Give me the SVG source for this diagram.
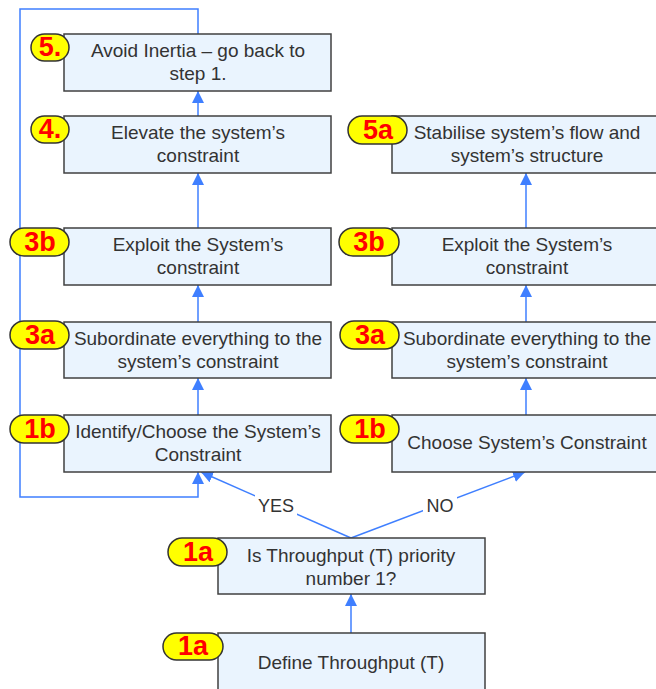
<svg xmlns="http://www.w3.org/2000/svg" width="656" height="689" viewBox="0 0 656 689">
<style>
.box{fill:#EAF4FE;stroke:#404040;stroke-width:1.5}
.badge{fill:#FFFF00;stroke:#333333;stroke-width:1.5}
.bt{font-family:"Liberation Sans",Arial,sans-serif;font-weight:bold;font-size:27px;fill:#FF0000;text-anchor:middle}
.t{font-family:"Liberation Sans",Arial,sans-serif;font-size:19px;fill:#333333;text-anchor:middle}
.lbl{font-family:"Liberation Sans",Arial,sans-serif;font-size:18px;fill:#333333;text-anchor:middle}
.c{fill:none;stroke:#3F7FFF;stroke-width:1.5;marker-end:url(#ah)}
</style>
<defs>
<marker id="ah" markerUnits="userSpaceOnUse" markerWidth="12" markerHeight="12" refX="12" refY="6" orient="auto">
<path d="M0,0 L12,6 L0,12 z" fill="#3F7FFF"/>
</marker>
</defs>
<rect width="656" height="689" fill="#FFFFFF"/>
<g id="connectors">
<path class="c" d="M198,116 V91"/>
<path class="c" d="M198,228 V173"/>
<path class="c" d="M198,322 V285"/>
<path class="c" d="M198,415 V378"/>
<path class="c" d="M526,228 V173"/>
<path class="c" d="M526,322 V285"/>
<path class="c" d="M526,415 V378"/>
<path class="c" d="M198,34 V9 H20 V497 H198 V472"/>
<path class="c" d="M351,538 L201,472"/>
<path class="c" d="M351,538 L525,472"/>
<path class="c" d="M351,633 V594"/>
<rect x="255" y="493" width="42" height="22" fill="#FFFFFF"/>
<text class="lbl" x="276" y="512">YES</text>
<rect x="423" y="493" width="34" height="22" fill="#FFFFFF"/>
<text class="lbl" x="440" y="512">NO</text>
</g>
<g id="n5">
<rect class="box" x="64" y="34" width="267" height="57"/>
<text class="t" x="198" y="57">Avoid Inertia – go back to</text>
<text class="t" x="198" y="80">step 1.</text>
<rect class="badge" x="31" y="34" width="38" height="27" rx="13.5"/>
<text class="bt" x="50" y="56">5.</text>
</g>
<g id="n4">
<rect class="box" x="64" y="116" width="267" height="57"/>
<text class="t" x="198" y="139">Elevate the system’s</text>
<text class="t" x="198" y="162">constraint</text>
<rect class="badge" x="31" y="116" width="38" height="27" rx="13.5"/>
<text class="bt" x="50" y="138">4.</text>
</g>
<g id="n3b-left">
<rect class="box" x="64" y="228" width="267" height="57"/>
<text class="t" x="198" y="251">Exploit the System’s</text>
<text class="t" x="198" y="274">constraint</text>
<rect class="badge" x="10" y="228" width="59" height="28" rx="14"/>
<text class="bt" x="40" y="251">3b</text>
</g>
<g id="n3a-left">
<rect class="box" x="64" y="322" width="267" height="56"/>
<text class="t" x="198" y="345">Subordinate everything to the</text>
<text class="t" x="198" y="368">system’s constraint</text>
<rect class="badge" x="10" y="321" width="59" height="28" rx="14"/>
<text class="bt" x="40" y="344">3a</text>
</g>
<g id="n1b-left">
<rect class="box" x="64" y="415" width="267" height="57"/>
<text class="t" x="198" y="438">Identify/Choose the System’s</text>
<text class="t" x="198" y="461">Constraint</text>
<rect class="badge" x="10" y="415" width="59" height="28" rx="14"/>
<text class="bt" x="40" y="438">1b</text>
</g>
<g id="n5a">
<rect class="box" x="392" y="116" width="267" height="57"/>
<text class="t" x="527" y="139">Stabilise system’s flow and</text>
<text class="t" x="527" y="162">system’s structure</text>
<rect class="badge" x="348" y="116" width="59" height="28" rx="14"/>
<text class="bt" x="378" y="139">5a</text>
</g>
<g id="n3b-right">
<rect class="box" x="392" y="228" width="267" height="57"/>
<text class="t" x="527" y="251">Exploit the System’s</text>
<text class="t" x="527" y="274">constraint</text>
<rect class="badge" x="339" y="228" width="60" height="28" rx="14"/>
<text class="bt" x="369" y="251">3b</text>
</g>
<g id="n3a-right">
<rect class="box" x="392" y="322" width="267" height="56"/>
<text class="t" x="527" y="345">Subordinate everything to the</text>
<text class="t" x="527" y="368">system’s constraint</text>
<rect class="badge" x="340" y="321" width="59" height="28" rx="14"/>
<text class="bt" x="370" y="344">3a</text>
</g>
<g id="n1b-right">
<rect class="box" x="392" y="415" width="267" height="57"/>
<text class="t" x="527" y="449">Choose System’s Constraint</text>
<rect class="badge" x="340" y="415" width="59" height="28" rx="14"/>
<text class="bt" x="370" y="438">1b</text>
</g>
<g id="n1a-question">
<rect class="box" x="218" y="538" width="267" height="56"/>
<text class="t" x="351" y="562">Is Throughput (T) priority</text>
<text class="t" x="351" y="585">number 1?</text>
<rect class="badge" x="168" y="538" width="59" height="28" rx="14"/>
<text class="bt" x="198" y="561">1a</text>
</g>
<g id="n1a-define">
<rect class="box" x="218" y="633" width="267" height="57"/>
<text class="t" x="351" y="669">Define Throughput (T)</text>
<rect class="badge" x="163" y="633" width="60" height="27" rx="13.5"/>
<text class="bt" x="193" y="655">1a</text>
</g>
</svg>
